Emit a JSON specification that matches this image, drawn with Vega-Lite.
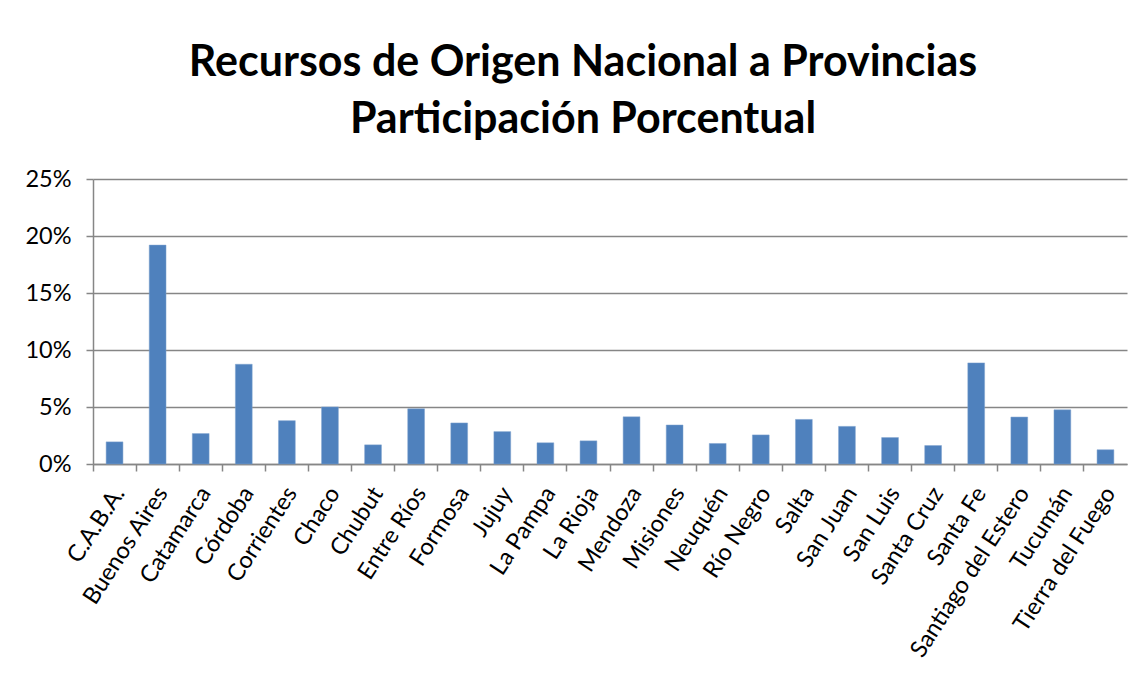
{
  "$schema": "https://vega.github.io/schema/vega-lite/v6.json",
  "width": 1034,
  "height": 285,
  "autosize": {"type": "none"},
  "padding": {"left": 93, "top": 179, "right": 12, "bottom": 217},
  "background": "white",
  "title": {
    "text": ["Recursos de Origen Nacional a Provincias", "Participación Porcentual"],
    "font": "Lato",
    "fontSize": 43,
    "fontWeight": "bold",
    "color": "black",
    "lineHeight": 57,
    "anchor": "middle",
    "dx": -27,
    "offset": 25
  },
  "data": {
    "values": [
      {"provincia": "C.A.B.A.", "pct": 0.0194},
      {"provincia": "Buenos Aires", "pct": 0.192},
      {"provincia": "Catamarca", "pct": 0.0267},
      {"provincia": "Córdoba", "pct": 0.0875},
      {"provincia": "Corrientes", "pct": 0.038},
      {"provincia": "Chaco", "pct": 0.0501},
      {"provincia": "Chubut", "pct": 0.0168},
      {"provincia": "Entre Ríos", "pct": 0.0484},
      {"provincia": "Formosa", "pct": 0.036},
      {"provincia": "Jujuy", "pct": 0.0284},
      {"provincia": "La Pampa", "pct": 0.0186},
      {"provincia": "La Rioja", "pct": 0.0203},
      {"provincia": "Mendoza", "pct": 0.0414},
      {"provincia": "Misiones", "pct": 0.0342},
      {"provincia": "Neuquén", "pct": 0.018},
      {"provincia": "Río Negro", "pct": 0.0255},
      {"provincia": "Salta", "pct": 0.0391},
      {"provincia": "San Juan", "pct": 0.033},
      {"provincia": "San Luis", "pct": 0.0232},
      {"provincia": "Santa Cruz", "pct": 0.0162},
      {"provincia": "Santa Fe", "pct": 0.0887},
      {"provincia": "Santiago del Estero", "pct": 0.0412},
      {"provincia": "Tucumán", "pct": 0.0475},
      {"provincia": "Tierra del Fuego", "pct": 0.0125}
    ]
  },
  "mark": {"type": "bar", "color": "#4F81BD", "stroke": "#7FA3CF", "strokeWidth": 0.5},
  "encoding": {
    "x": {
      "field": "provincia",
      "type": "nominal",
      "sort": null,
      "scale": {"paddingInner": 0.61, "paddingOuter": 0.305},
      "axis": {
        "title": null,
        "labelAngle": -57,
        "labelFont": "Lato",
        "labelFontSize": 23.5,
        "labelColor": "black",
        "labelPadding": 18,
        "labelOffset": 5,
        "labelOverlap": false,
        "labelLimit": 0,
        "bandPosition": -0.782,
        "domainColor": "#868686",
        "domainWidth": 1.5,
        "tickColor": "#868686",
        "tickWidth": 1.5,
        "tickSize": 7,
        "grid": false
      }
    },
    "y": {
      "field": "pct",
      "type": "quantitative",
      "scale": {"domain": [0, 0.25]},
      "axis": {
        "title": null,
        "values": [0, 0.05, 0.1, 0.15, 0.2, 0.25],
        "format": ".0%",
        "labelFont": "Lato",
        "labelFontSize": 23.5,
        "labelColor": "black",
        "labelPadding": 15,
        "domainColor": "#868686",
        "domainWidth": 1.5,
        "tickColor": "#868686",
        "tickWidth": 1.5,
        "tickSize": 7,
        "gridColor": "#868686",
        "gridWidth": 1.5
      }
    }
  },
  "config": {"view": {"stroke": null}}
}
